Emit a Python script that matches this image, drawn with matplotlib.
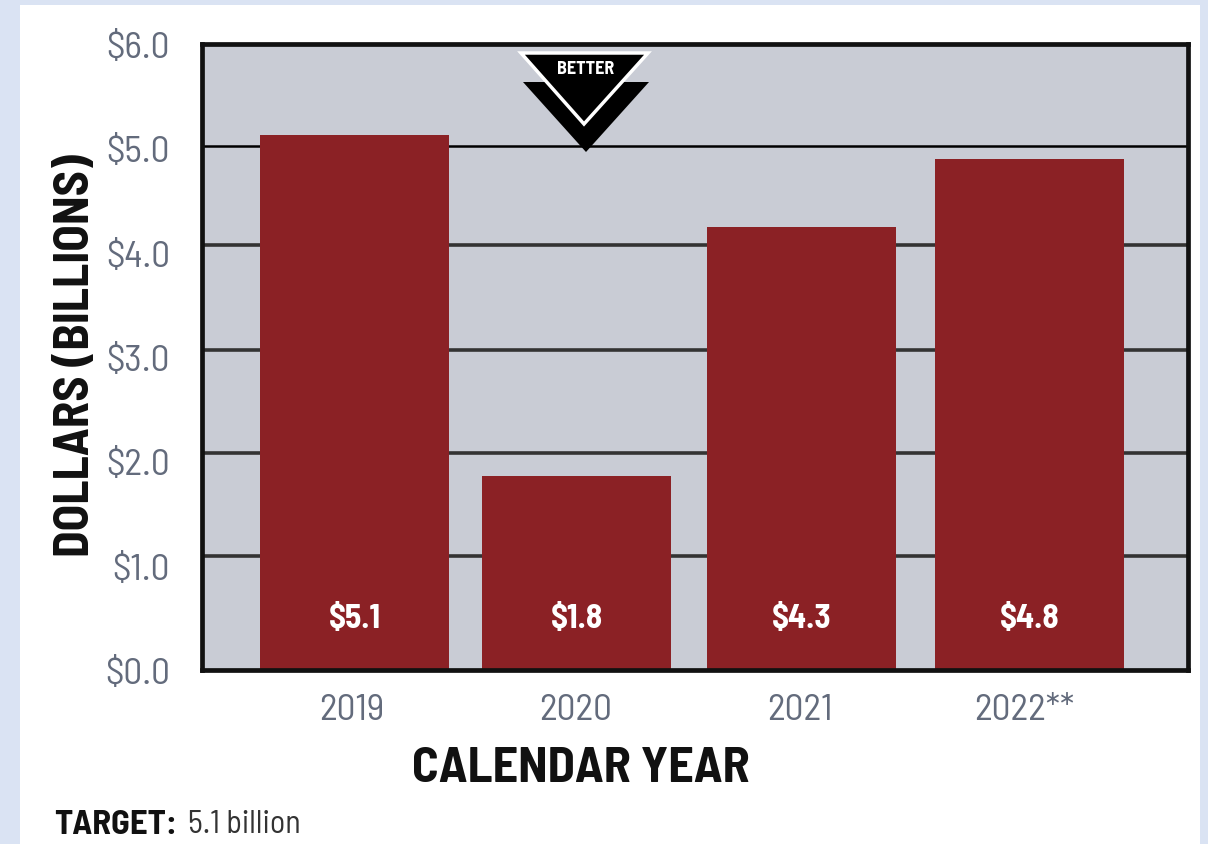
import matplotlib
matplotlib.use('Agg')
import matplotlib.pyplot as plt
from matplotlib.patches import Polygon, Rectangle
from matplotlib.transforms import ScaledTranslation

years = ['2019', '2020', '2021', '2022**']
heights = [5.13, 1.86, 4.25, 4.90]
bar_labels = ['$5.1', '$1.8', '$4.3', '$4.8']
y_ticks = [0, 1, 2, 3, 4, 5, 6]
y_labels = ['$0.0', '$1.0', '$2.0', '$3.0', '$4.0', '$5.0', '$6.0']
grid_levels = [1.09, 2.08, 3.07, 4.07]
top_grid = 5.02

W, H = 1208, 844
plt.rcParams['font.family'] = ['Barlow Semi Condensed', 'Liberation Sans', 'DejaVu Sans']
plt.rcParams['text.parse_math'] = False


def fx(x):
    return x / W


def fy(y):
    return 1 - y / H


fig = plt.figure(figsize=(W / 100, H / 100), dpi=100, facecolor='#DAE3F3')
fig.add_artist(Rectangle((fx(20), 0), fx(1180), fy(5), transform=fig.transFigure,
                         facecolor='white', edgecolor='none', zorder=-1))

ax = fig.add_axes([fx(202), fy(670), fx(986), (670 - 44) / H])
ax.set_facecolor('#C9CCD5')
ax.set_xlim(-0.678, 3.704)
ax.set_ylim(0, 6)

for g in grid_levels:
    ax.axhline(g, color='#333333', lw=2.6, zorder=1)
ax.axhline(top_grid, color='black', lw=1.8, zorder=1)

# the bars are not evenly spaced in the original
xpos = [0, 0.987, 1.987, 3.0]
ax.bar(xpos, heights, width=0.84, color='#8B2125', zorder=2)

for x, lab in zip(xpos, bar_labels):
    ax.text(x, 0.49, lab, color='white', fontsize=24, fontweight='bold',
            ha='center', va='center', zorder=3)

for side in ax.spines:
    ax.spines[side].set_linewidth(3.4)
    ax.spines[side].set_color('#111111')

ax.set_yticks(y_ticks)
ax.set_yticklabels(y_labels)
ax.set_xticks([-0.014, 0.984, 1.98, 2.977])
ax.set_xticklabels(years)
ax.tick_params(axis='both', length=0, labelsize=27, labelcolor='#636B7C')
ax.tick_params(axis='y', pad=23)
ax.tick_params(axis='x', pad=17)

# y labels sit a little lower than their ticks
shift = ScaledTranslation(0, -1 / 100, fig.dpi_scale_trans)
for lab in ax.get_yticklabels():
    lab.set_transform(lab.get_transform() + shift)

# better arrow
fig.add_artist(Polygon([(fx(523), fy(82)), (fx(649), fy(82)), (fx(586), fy(152))],
                       transform=fig.transFigure, facecolor='black', edgecolor='none', zorder=5))
fig.add_artist(Polygon([(fx(521), fy(53)), (fx(648), fy(53)), (fx(584), fy(124))],
                       transform=fig.transFigure, facecolor='black', edgecolor='white',
                       lw=2.5, zorder=6))
fig.text(fx(586), fy(69), 'BETTER', color='white', fontsize=13, fontweight='bold',
         ha='center', va='center', zorder=7)

fig.text(fx(76), fy(356), 'DOLLARS (BILLIONS)', rotation=90, color='#111111', fontsize=35,
         fontweight='bold', ha='center', va='center')
fig.text(fx(581), fy(769), 'CALENDAR YEAR', color='#111111', fontsize=36,
         fontweight='bold', ha='center', va='center')
fig.text(fx(54), fy(825), 'TARGET:', color='#111111', fontsize=25, fontweight='bold',
         ha='left', va='center')
fig.text(fx(188), fy(825), '5.1 billion', color='#333333', fontsize=23,
         ha='left', va='center')

fig.savefig('out.png', dpi=100, facecolor=fig.get_facecolor())
